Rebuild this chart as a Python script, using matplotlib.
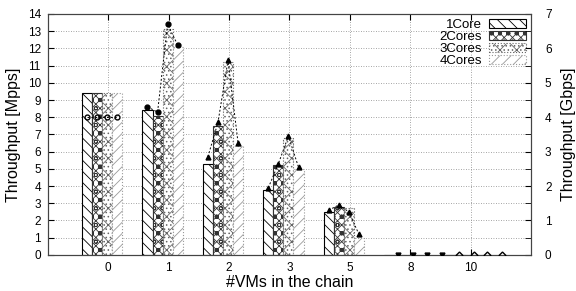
import numpy as np
import matplotlib.pyplot as plt

plt.rcParams['font.family'] = ['Liberation Sans', 'DejaVu Sans']
plt.rcParams['hatch.linewidth'] = 0.6

# donnees
groupes = ['0', '1', '2', '3', '5', '8', '10']
series = ['1Core', '2Cores', '3Cores', '4Cores']
mpps = [
    [9.4, 8.4, 5.3, 3.8, 2.5, 0.0, 0.0],    # 1Core
    [9.4, 8.1, 7.5, 5.2, 2.8, 0.0, 0.0],    # 2Cores
    [9.4, 13.1, 11.2, 6.8, 2.7, 0.0, 0.0],  # 3Cores
    [9.4, 12.1, 6.3, 5.0, 1.0, 0.0, 0.0],   # 4Cores
]
# debit en Gbps (axe de droite), un groupe de points par nombre de VMs
gbps = [
    [4.0, 4.0, 4.0, 4.0],
    [4.3, 4.15, 6.7, 6.1],
    [2.85, 3.85, 5.65, 3.25],
    [1.95, 2.65, 3.45, 2.55],
    [1.3, 1.45, 1.25, 0.6],
    [0.0, 0.0, 0.0, 0.0],
    [0.0, 0.0, 0.0, 0.0],
]

hachures = ['\\\\\\', 'xxxxoo', '....xx', '///']
bords = ['black', '#333333', '#666666', '#999999']
styles_bord = ['-', '-', ':', ':']
marqueurs = [('o', 'none'), ('o', 'black'), ('^', 'black'), ('^', 'black'),
             ('^', 'black'), ('v', 'black'), ('D', 'none')]

x = np.arange(len(groupes))
largeur = 1 / 6
decalages = np.array([-0.35, -0.183, -0.017, 0.15])

fig = plt.figure(figsize=(5.76, 2.91), dpi=100)
ax = fig.add_axes([0.083, 0.124, 0.839, 0.828])
ax2 = ax.twinx()

for i in range(4):
    ax.bar(x + decalages[i], mpps[i], largeur, color='white', edgecolor=bords[i],
           hatch=hachures[i], linewidth=0.8, linestyle=styles_bord[i], label=series[i], zorder=2)

# points relies en pointilles
for j in range(len(groupes)):
    if j >= 5:
        xs = x[j] + np.array([-0.2, 0.05, 0.27, 0.52])
    else:
        xs = x[j] + decalages
    m, f = marqueurs[j]
    ax2.plot(xs, gbps[j], linestyle='--', color='black', linewidth=0.7, marker=m,
             markerfacecolor=f, markeredgecolor='black', markersize=3.5, zorder=3,
             dashes=(2, 2))

ax.set_xlim(-1, 7)
ax.set_ylim(0, 14)
ax2.set_ylim(0, 7)
ax.set_xticks(x)
ax.set_xticklabels(groupes)
ax.set_yticks(np.arange(0, 15, 1))
ax2.set_yticks(np.arange(0, 8, 1))
ax2.set_yticks(np.arange(0, 7.5, 0.5), minor=True)
ax.grid(color='#888888', linestyle=(0, (1, 2)), linewidth=0.6)
ax.set_axisbelow(True)
ax.tick_params(direction='in', labelsize=8.5, top=True, length=4)
ax2.tick_params(direction='in', labelsize=8.5, length=4)
ax2.tick_params(which='minor', direction='in', length=4)
ax.tick_params(axis='x', pad=5)
ax.tick_params(axis='y', pad=5)
ax2.tick_params(axis='y', pad=10)
ax.set_xlabel('#VMs in the chain', fontsize=11.5, labelpad=1)
ax.set_ylabel('Throughput [Mpps]', fontsize=11.5, labelpad=5)
ax2.set_ylabel('Throughput [Gbps]', fontsize=11.5, labelpad=7)
for a in (ax, ax2):
    for s in a.spines.values():
        s.set_color('#444444')

ax.legend(loc='upper right', frameon=False, markerfirst=False, fontsize=9.5,
          handlelength=2.8, handleheight=0.6, labelspacing=0.0, borderaxespad=0.2,
          handletextpad=0.5, borderpad=0.2)

fig.savefig('out.png', dpi=100)
